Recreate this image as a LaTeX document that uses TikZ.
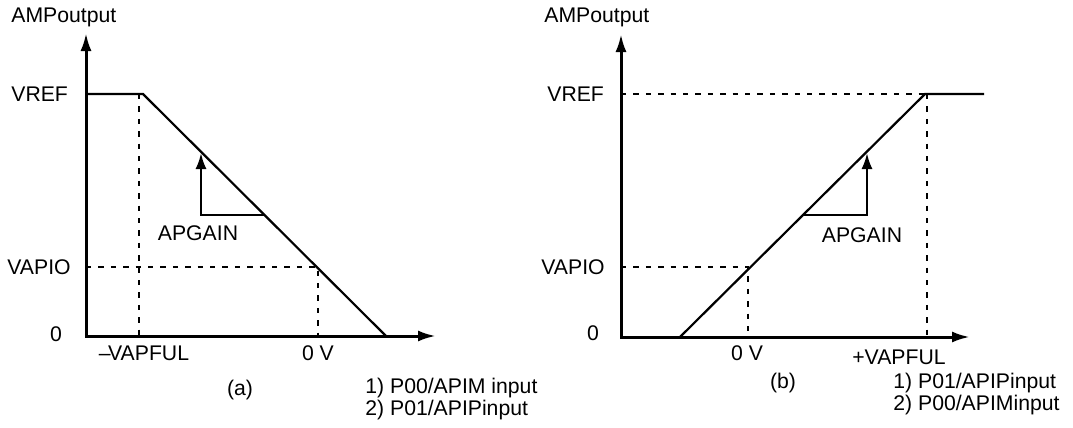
\documentclass[tikz,border=0pt]{standalone}
\usepackage{fontspec}
\setmainfont{Liberation Sans}
\usetikzlibrary{arrows.meta}
\tikzset{
axis/.style={line width=1.5pt, {Latex[length=9pt,width=5.5pt]}-{Latex[length=9pt,width=5.5pt]}},
transfer/.style={line width=1.1pt},
guide/.style={line width=0.6pt, dash pattern=on 2.7pt off 3.5pt},
gain/.style={line width=1.2pt, -{Latex[length=8pt,width=5.5pt]}},
lbl/.style={inner sep=0pt, font=\fontsize{10.6}{12}\selectfont}
}

\begin{document}
\begin{tikzpicture}[x=0.5pt, y=-0.5pt]
\useasboundingbox (0,0) rectangle (1073,428);
% (a)
\coordinate (oa) at (86,336);
\coordinate (ya) at (86,33);
\coordinate (xa) at (436,336);
\coordinate (refa) at (86,94);
\coordinate (kneea) at (143,94);
\coordinate (enda) at (386,336);
\coordinate (fultopa) at (139,94);
\coordinate (fulbota) at (139,336);
\coordinate (pioa) at (86,267);
\coordinate (piocrossa) at (318,267);
\coordinate (zeroa) at (318,336);
\coordinate (slopea) at (264,215);
\coordinate (cornera) at (201,215);
\coordinate (tipa) at (201,153);
\draw[axis] (ya) -- (oa) -- (xa);
\draw[transfer] (refa) -- (kneea) -- (enda);
\draw[guide] (fultopa) -- (fulbota);
\draw[guide] (pioa) -- (piocrossa) -- (zeroa);
\draw[gain] (slopea) -- (cornera) -- (tipa);
\node[lbl, anchor=west] (outa) at (11,17) {AMPoutput};
\node[lbl, anchor=west] (vrefa) at (11,94) {VREF};
\node[lbl, anchor=west] (vapioa) at (7,267) {VAPIO};
\node[lbl] (nulla) at (56,334) {0};
\node[lbl] (vapfula) at (144,353) {–\kern-0.12em VAPFUL};
\node[lbl] (zerova) at (318,353) {0 V};
\node[lbl] (apgaina) at (198,233) {APGAIN};
\node[lbl] (capa) at (240,390) {(a)};
\node[lbl, anchor=west] (notea1) at (365,388) {1) P00/APIM input};
\node[lbl, anchor=west] (notea2) at (365,410) {2) P01/APIPinput};
% (b)
\coordinate (ob) at (621,337);
\coordinate (yb) at (621,34);
\coordinate (xb) at (970,337);
\coordinate (startb) at (680,337);
\coordinate (kneeb) at (925,94);
\coordinate (flatb) at (984,94);
\coordinate (refb) at (621,94);
\coordinate (fulbotb) at (927,337);
\coordinate (fultopb) at (927,94);
\coordinate (piob) at (621,267);
\coordinate (piocrossb) at (748,267);
\coordinate (zerob) at (748,337);
\coordinate (slopeb) at (804,215);
\coordinate (cornerb) at (867,215);
\coordinate (tipb) at (867,153);
\draw[axis] (yb) -- (ob) -- (xb);
\draw[transfer] (startb) -- (kneeb) -- (flatb);
\draw[guide] (refb) -- (kneeb);
\draw[guide] (fultopb) -- (fulbotb);
\draw[guide] (piob) -- (piocrossb) -- (zerob);
\draw[gain] (slopeb) -- (cornerb) -- (tipb);
\node[lbl, anchor=west] (outb) at (544,17) {AMPoutput};
\node[lbl, anchor=west] (vrefb) at (547,94) {VREF};
\node[lbl, anchor=west] (vapiob) at (541,267) {VAPIO};
\node[lbl] (nullb) at (593,333) {0};
\node[lbl] (zerovb) at (747,353) {0 V};
\node[lbl] (vapfulb) at (899,357) {+VAPFUL};
\node[lbl] (apgainb) at (862,235) {APGAIN};
\node[lbl] (capb) at (783,383) {(b)};
\node[lbl, anchor=west] (noteb1) at (893,383) {1) P01/APIPinput};
\node[lbl, anchor=west] (noteb2) at (893,405) {2) P00/APIMinput};
\end{tikzpicture}
\end{document}
